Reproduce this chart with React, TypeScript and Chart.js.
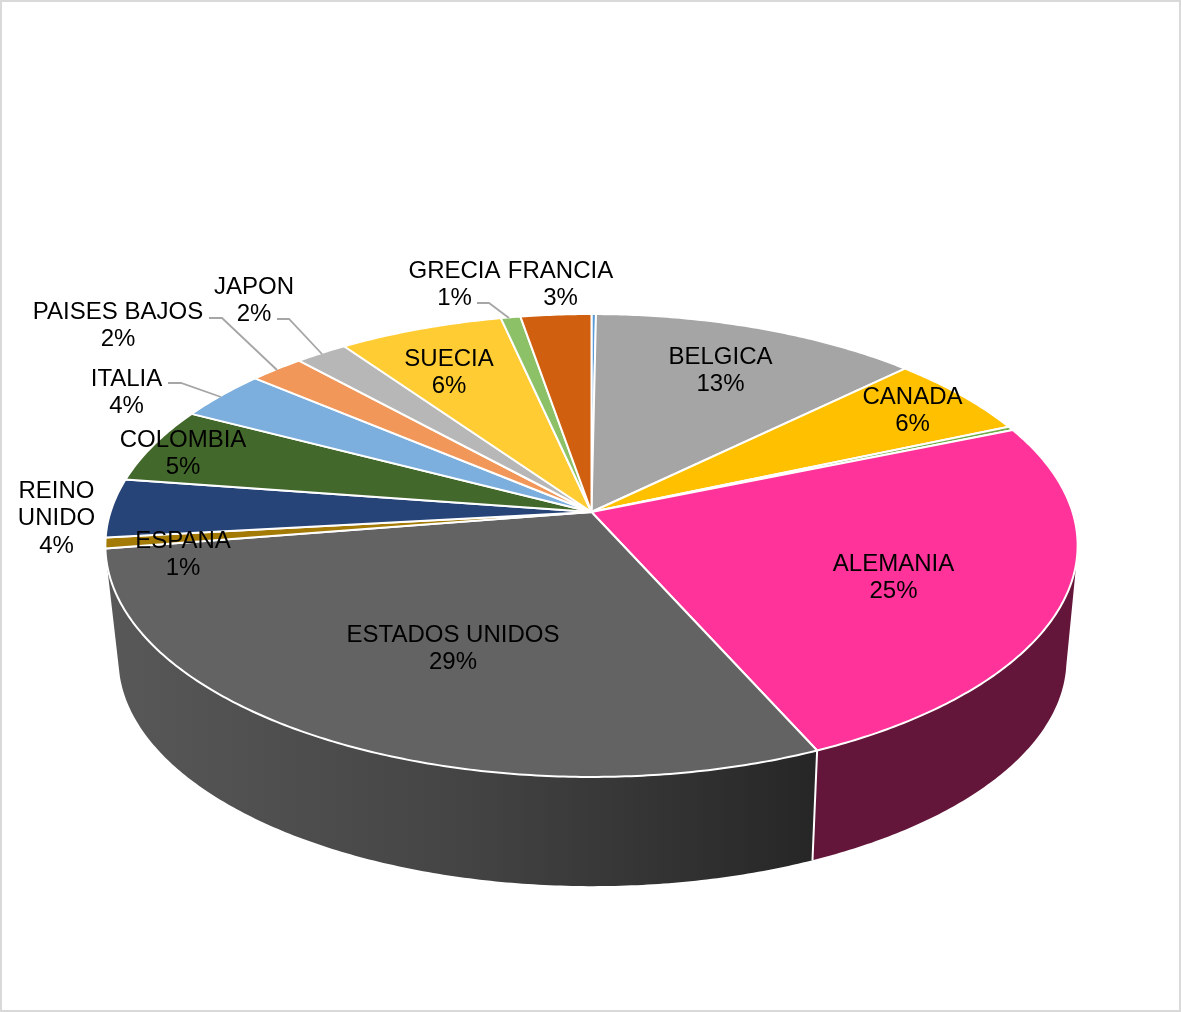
import React, { useEffect, useRef } from "react";
import { Chart, registerables, PieController } from "chart.js";

// Share of each country, clockwise from twelve o'clock. Two very small
// slices carry no label, hence the empty category names.
const categories = ["", "BELGICA", "CANADA", "", "ALEMANIA", "ESTADOS UNIDOS", "ESPANA", "REINO UNIDO", "COLOMBIA", "ITALIA", "PAISES BAJOS", "JAPON", "SUECIA", "GRECIA", "FRANCIA"];
const shares = [0.17, 12.56, 5.75, 0.28, 24.55, 29.15, 0.75, 4.1, 5.3, 3.5, 2.1, 2.0, 6.3, 0.75, 2.7];
const sliceColors = ["#5b9bd5", "#a5a5a5", "#ffc000", "#70ad47", "#ff3399", "#636363", "#a37a05", "#264478", "#43682b", "#7cafdd", "#f1975a", "#b7b7b7", "#ffcd33", "#8cc168", "#d0600f"];

// Where each data label sits: centre x, y of first line, and how its name is broken.
const labelSpots: Record<string, { x: number; y: number; lines?: string[] }> = {
  BELGICA: { x: 720.5, y: 357 },
  CANADA: { x: 912.5, y: 397 },
  ALEMANIA: { x: 893.5, y: 564 },
  "ESTADOS UNIDOS": { x: 453, y: 635 },
  ESPANA: { x: 183, y: 541 },
  "REINO UNIDO": { x: 56.5, y: 491, lines: ["REINO", "UNIDO"] },
  COLOMBIA: { x: 183, y: 440 },
  ITALIA: { x: 126.5, y: 379 },
  "PAISES BAJOS": { x: 118, y: 312 },
  JAPON: { x: 254, y: 287 },
  SUECIA: { x: 449, y: 359 },
  GRECIA: { x: 454.5, y: 271 },
  FRANCIA: { x: 560.5, y: 271 },
};

const leaderLines = [
  [[477, 303], [489, 303], [509, 318]],
  [[277, 319], [289, 319], [322, 354]],
  [[209, 318], [222, 318], [277, 370]],
  [[168, 383], [181, 383], [221, 397]],
];

// Tilted disc: a projective map of the unit circle, so the pie's centre
// sits above the middle of the visible ellipse.
const disc = { cx: 591.5, cy: 512, a: 481, b: 226.6, p: 0.1447 };
const wall = { cx: 592.5, cy: 626.5, scaleX: 0.975, scaleY: 0.98, from: 100, to: 258 };

const project = (angle: number) => {
  const w = 1 - disc.p * Math.sin(angle);
  return {
    dx: (disc.a * Math.cos(angle)) / w,
    dy: (disc.b * Math.sin(angle)) / w,
  };
};
const topPoint = (angle: number) => {
  const { dx, dy } = project(angle);
  return [disc.cx + dx, disc.cy + dy];
};
const basePoint = (angle: number) => {
  const { dx, dy } = project(angle);
  return [wall.cx + dx * wall.scaleX, wall.cy + dy * wall.scaleY];
};
const sweep = (start: number, end: number) => {
  const steps = Math.max(2, Math.ceil((end - start) / 0.01));
  return Array.from({ length: steps + 1 }, (_, i) => start + ((end - start) * i) / steps);
};

const wallFill = (ctx: CanvasRenderingContext2D, index: number) => {
  if (categories[index] === "ALEMANIA") return "#63163a";
  const g = ctx.createLinearGradient(110, 0, 815, 0);
  g.addColorStop(0, "#585858");
  g.addColorStop(0.5, "#444444");
  g.addColorStop(1, "#262626");
  return g;
};

// Pie whose slices take their angles from the stock controller but are
// painted as an extruded, tilted disc.
class TiltedPieController extends PieController {
  static id = "tiltedPie";

  draw() {
    const ctx = this.chart.ctx;
    const arcs = this.getMeta().data as any[];
    const limitFrom = (wall.from * Math.PI) / 180 - Math.PI / 2;
    const limitTo = (wall.to * Math.PI) / 180 - Math.PI / 2;

    ctx.save();
    ctx.lineJoin = "round";

    arcs.forEach((arc, i) => {
      const start = Math.max(arc.startAngle, limitFrom);
      const end = Math.min(arc.endAngle, limitTo);
      if (end <= start) return;
      const angles = sweep(start, end);
      ctx.beginPath();
      angles.forEach((t, k) => {
        const [x, y] = topPoint(t);
        if (k === 0) ctx.moveTo(x, y);
        else ctx.lineTo(x, y);
      });
      [...angles].reverse().forEach((t) => {
        const [x, y] = basePoint(t);
        ctx.lineTo(x, y);
      });
      ctx.closePath();
      ctx.fillStyle = wallFill(ctx, i);
      ctx.fill();
    });

    // White seam where the two walls meet.
    const seam = arcs[categories.indexOf("ALEMANIA")].endAngle;
    const [sx, sy] = topPoint(seam);
    const [bx, by] = basePoint(seam);
    ctx.strokeStyle = "#ffffff";
    ctx.lineWidth = 2;
    ctx.beginPath();
    ctx.moveTo(sx, sy);
    ctx.lineTo(bx, by);
    ctx.stroke();

    arcs.forEach((arc, i) => {
      ctx.beginPath();
      ctx.moveTo(disc.cx, disc.cy);
      sweep(arc.startAngle, arc.endAngle).forEach((t) => {
        const [x, y] = topPoint(t);
        ctx.lineTo(x, y);
      });
      ctx.closePath();
      ctx.fillStyle = sliceColors[i];
      ctx.fill();
      ctx.lineWidth = 2;
      ctx.stroke();
    });
    ctx.restore();
  }
}

const frame = {
  id: "frame",
  beforeDraw(chart: Chart) {
    const { ctx, width, height } = chart;
    ctx.save();
    ctx.fillStyle = "#ffffff";
    ctx.fillRect(0, 0, width, height);
    ctx.strokeStyle = "#d9d9d9";
    ctx.lineWidth = 2;
    ctx.strokeRect(1, 1, width - 2, height - 2);
    ctx.restore();
  },
};

const dataLabels = {
  id: "dataLabels",
  afterDatasetsDraw(chart: Chart) {
    const { ctx } = chart;
    const total = shares.reduce((sum, v) => sum + v, 0);
    ctx.save();
    ctx.strokeStyle = "#a6a6a6";
    ctx.lineWidth = 1.8;
    leaderLines.forEach((line) => {
      ctx.beginPath();
      line.forEach(([x, y], k) => (k === 0 ? ctx.moveTo(x, y) : ctx.lineTo(x, y)));
      ctx.stroke();
    });
    ctx.fillStyle = "#000000";
    ctx.font = '24px "Liberation Sans", Arial, sans-serif';
    ctx.textAlign = "center";
    ctx.textBaseline = "middle";
    categories.forEach((name, i) => {
      const spot = labelSpots[name];
      if (!spot) return;
      const lines = [...(spot.lines ?? [name]), `${Math.round((shares[i] / total) * 100)}%`];
      lines.forEach((text, k) => ctx.fillText(text, spot.x, spot.y + k * 27.7));
    });
    ctx.restore();
  },
};

Chart.register(...registerables, TiltedPieController);

export default function App() {
  const canvasRef = useRef<HTMLCanvasElement>(null);

  useEffect(() => {
    const chart = new Chart(canvasRef.current!, {
      type: "tiltedPie" as any,
      data: {
        labels: categories,
        datasets: [{ data: shares, backgroundColor: sliceColors, borderColor: "#ffffff" }],
      },
      options: {
        responsive: false,
        animation: false,
        events: [],
        plugins: { legend: { display: false }, tooltip: { enabled: false } },
      },
      plugins: [frame, dataLabels],
    });
    return () => chart.destroy();
  }, []);

  return (
    <div style={{ position: "absolute", left: 0, top: 0, width: 1181, height: 1012 }}>
      <canvas ref={canvasRef} width={1181} height={1012} style={{ display: "block" }} />
    </div>
  );
}
